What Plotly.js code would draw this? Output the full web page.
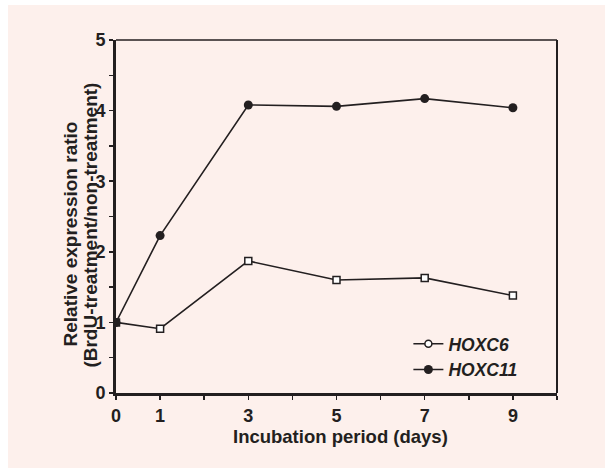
<!DOCTYPE html>
<html><head><meta charset="utf-8">
<script src="https://cdn.plot.ly/plotly-3.0.1.min.js"></script>
<style>
html,body{margin:0;padding:0;background:#ffffff;width:605px;height:468px;overflow:hidden}
#chart{position:absolute;left:8px;top:5px;width:597px;height:463px}
</style></head>
<body><div id="chart"></div>
<script>
const days = [0, 1, 3, 5, 7, 9];
const hoxc6 = [1.0, 0.91, 1.87, 1.60, 1.63, 1.38];
const hoxc11 = [1.0, 2.23, 4.08, 4.06, 4.17, 4.04];
const xTickVals = [0, 1, 3, 5, 7, 9];
const xTickText = ['0', '1', '3', '5', '7', '9'];
const yTickVals = [0, 1, 2, 3, 4, 5];
const yTitle1 = 'Relative expression ratio';
const yTitle2 = '(BrdU-treatment/non-treatment)';
const xTitle = 'Incubation period (days)';

const ink = '#231f20';
const F = 'Liberation Sans, Arial, sans-serif';

const traces = [
  {x: days, y: hoxc6, name: 'HOXC6', mode: 'lines+markers', showlegend: false,
   line: {color: ink, width: 1.6},
   marker: {symbol: 'square', size: 7, color: '#ffffff', line: {color: ink, width: 1.5}}},
  {x: days, y: hoxc11, name: 'HOXC11', mode: 'lines+markers', showlegend: false,
   line: {color: ink, width: 1.6},
   marker: {symbol: 'circle', size: 9, color: ink, line: {color: ink, width: 0}}},
  {x: [null], y: [null], name: 'HOXC6', mode: 'lines+markers',
   line: {color: ink, width: 1.6},
   marker: {symbol: 'circle', size: 7, color: '#ffffff', line: {color: ink, width: 1.5}}},
  {x: [null], y: [null], name: 'HOXC11', mode: 'lines+markers',
   line: {color: ink, width: 1.6},
   marker: {symbol: 'circle', size: 9, color: ink, line: {color: ink, width: 0}}}
];

const layout = {
  width: 597, height: 463,
  margin: {l: 108, r: 48, t: 35, b: 75},
  paper_bgcolor: '#fdf0ec', plot_bgcolor: '#fdf0ec',
  font: {family: F, color: ink, size: 16, weight: 'bold'},
  showlegend: true,
  legend: {x: 0.663, y: 0.19, xanchor: 'left', yanchor: 'top', bgcolor: 'rgba(0,0,0,0)',
           font: {family: F, size: 17.5, weight: 'bold', style: 'italic', color: ink},
           tracegroupgap: 0, itemwidth: 30},
  xaxis: {range: [0, 10], tickmode: 'array', tickvals: xTickVals, ticktext: xTickText,
          ticks: 'outside', ticklen: 4, tickwidth: 1.5, tickcolor: ink,
          minor: {dtick: 1, tick0: 0, ticks: 'outside', ticklen: 4, tickwidth: 1.5, tickcolor: ink},
          showline: true, linecolor: ink, linewidth: 3, showgrid: false, zeroline: false,
          tickfont: {family: F, size: 18, weight: 'bold', color: ink}},
  yaxis: {range: [0, 5], tickmode: 'array', tickvals: yTickVals,
          ticks: 'outside', ticklen: 4, tickwidth: 1.5, tickcolor: ink,
          minor: {dtick: 0.5, tick0: 0, ticks: 'outside', ticklen: 4, tickwidth: 1.5, tickcolor: ink},
          showline: true, linecolor: ink, linewidth: 3, showgrid: false, zeroline: false,
          tickfont: {family: F, size: 18, weight: 'bold', color: ink}},
  annotations: [
    {text: xTitle, xref: 'paper', yref: 'paper', x: 0.509, y: -0.124, xanchor: 'center', yanchor: 'middle',
     showarrow: false, font: {family: F, size: 18.5, weight: 'bold', color: ink}},
    {text: yTitle1, xref: 'paper', yref: 'paper', x: -0.1043, y: 0.449, xanchor: 'center', yanchor: 'middle',
     textangle: -90, showarrow: false, font: {family: F, size: 19, weight: 'bold', color: ink}},
    {text: yTitle2, xref: 'paper', yref: 'paper', x: -0.0567, y: 0.477, xanchor: 'center', yanchor: 'middle',
     textangle: -90, showarrow: false, font: {family: F, size: 19, weight: 'bold', color: ink}}
  ],
  shapes: [
    {type: 'line', xref: 'paper', yref: 'paper', x0: 0, x1: 1, y0: 1, y1: 1, line: {color: ink, width: 1.5}},
    {type: 'line', xref: 'paper', yref: 'paper', x0: 1, x1: 1, y0: 0, y1: 1, line: {color: ink, width: 2}}
  ]
};

Plotly.newPlot('chart', traces, layout, {displayModeBar: false, staticPlot: true});
</script></body></html>
